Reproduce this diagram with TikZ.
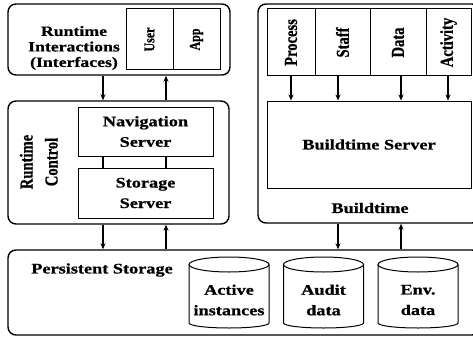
\documentclass[tikz,border=0pt]{standalone}
\usepackage{fontspec}
\setmainfont{Liberation Serif}[BoldFeatures={FakeBold=0.8}]
\newfontfamily\widefont{Liberation Serif}[FakeStretch=1.25, BoldFeatures={FakeBold=0.8}]
\usetikzlibrary{arrows.meta}
\newcommand{\vtext}[1]{\rotatebox{90}{\scalebox{1}[1.25]{#1}}}
\begin{document}
\begin{tikzpicture}[x=1pt,y=1pt,
  outer/.style={draw, rounded corners=8pt, line width=1.4pt, inner sep=0pt},
  cell/.style={draw, line width=1pt, inner sep=0pt, font=\bfseries\fontsize{14.6}{20}\selectfont},
  lbl/.style={font=\widefont\bfseries\fontsize{14.6}{20.5}\selectfont, align=center, inner sep=0pt},
  arr/.style={line width=1.1pt, -{Stealth[length=6pt,width=5pt]}},
  plain/.style={line width=1.1pt},
  cylline/.style={line width=1pt}]
\useasboundingbox (0,0) rectangle (473,338);
\clip (0,0) rectangle (473,338);
\fill[white] (0,0) rectangle (473,338);
% outer boxes
\node[outer, minimum width=222, minimum height=71] (ri) at (119,298.5) {};
\node[outer, minimum width=221, minimum height=123] (rc) at (118.5,175.5) {};
\node[outer, minimum width=222, minimum height=219] (bt) at (369,224.5) {};
\node[outer, minimum width=472, minimum height=85] (ps) at (244,45.5) {};
% runtime interactions
\node[lbl, font=\widefont\bfseries\fontsize{14.2}{15.5}\selectfont] (ril) at (74,290) {Runtime\\Interactions\\(Interfaces)};
\node[cell, minimum width=47, minimum height=61, font=\bfseries\fontsize{12}{14}\selectfont] (user) at (149.5,298.5) {\vtext{User}};
\node[cell, minimum width=47, minimum height=61, font=\bfseries\fontsize{12}{14}\selectfont] (app) at (196.5,298.5) {\vtext{App}};
% runtime control
\node[inner sep=0pt, font=\bfseries\fontsize{14.6}{20}\selectfont] (rcl) at (40,176) {\rotatebox{90}{\scalebox{1}[1.25]{\begin{tabular}{@{}c@{}}Runtime\\Control\end{tabular}}}};
\node[cell, lbl, draw, line width=1pt, minimum width=135, minimum height=49] (nav) at (145.5,206.5) {Navigation\\Server};
\node[cell, lbl, draw, line width=1pt, minimum width=135, minimum height=50] (sto) at (145.5,145) {Storage\\Server};
\draw[plain] (nav.south -| 103,0) -- (sto.north -| 103,0);
\draw[plain] (nav.south -| 166,0) -- (sto.north -| 166,0);
% buildtime
\node[cell, minimum width=48, minimum height=67] (proc) at (291,295.5) {\vtext{Process}};
\node[cell, minimum width=55, minimum height=67] (staff) at (342.5,295.5) {\vtext{Staff}};
\node[cell, minimum width=56, minimum height=67] (data) at (398,295.5) {\vtext{Data}};
\node[cell, minimum width=45, minimum height=67] (act) at (448.5,295.5) {\vtext{Activity}};
\node[cell, lbl, draw, line width=1pt, minimum width=204, minimum height=87] (bs) at (369,193.5) {Buildtime Server};
\node[lbl] (btl) at (370,130) {Buildtime};
\draw[arr] (proc.south -| 291,0) -- (bs.north -| 291,0);
\draw[arr] (staff.south -| 338,0) -- (bs.north -| 338,0);
\draw[arr] (data.south -| 401,0) -- (bs.north -| 401,0);
\draw[arr] (act.south -| 448,0) -- (bs.north -| 448,0);
% inter-box arrows
\draw[arr] (ri.south -| 103,0) -- (rc.north -| 103,0);
\draw[arr] (rc.north -| 166,0) -- (ri.south -| 166,0);
\draw[arr] (rc.south -| 103,0) -- (ps.north -| 103,0);
\draw[arr] (ps.north -| 166,0) -- (rc.south -| 166,0);
\draw[arr] (bt.south -| 338,0) -- (ps.north -| 338,0);
\draw[arr] (ps.north -| 401,0) -- (bt.south -| 401,0);
% persistent storage
\node[lbl] (psl) at (102,68) {Persistent Storage};
\foreach \cx in {229,323.5,418} {
  \draw[cylline] (\cx,73.5) ellipse[x radius=40, y radius=7.5];
  \draw[cylline] ({\cx-40},73.5) -- ({\cx-40},15) arc[start angle=180, end angle=360, x radius=40, y radius=5] -- ({\cx+40},73.5);
}
\node[lbl] (ai) at (229,38) {Active\\instances};
\node[lbl] (ad) at (323.5,38) {Audit\\data};
\node[lbl] (ed) at (418,38) {Env.\\data};
\end{tikzpicture}
\end{document}
